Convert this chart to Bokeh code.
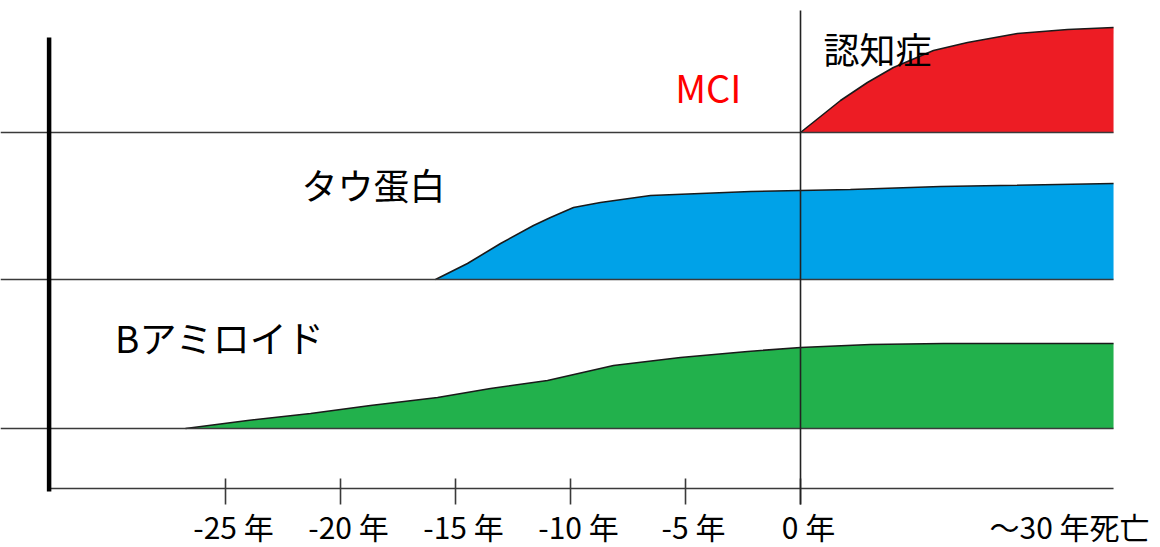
from bokeh.plotting import figure
from bokeh.models import Range1d
from bokeh.embed import file_html
from bokeh.resources import INLINE
from bokeh.core.properties import value

# ---- data (x: years relative to dementia onset, display scale; y: level) ----
tick_years = [-25, -20, -15, -10, -5, 0]
tick_labels = ["-25 年", "-20 年", "-15 年", "-10 年", "-5 年", "0 年"]
end_label = "～30 年死亡"
end_year = 13.61          # right end of the timeline (compressed "～30 年")
end_label_year = 11.35

amyloid_x = [-26.74, -24.04, -21.30, -18.70, -15.78, -13.48, -11.0, -8.13, -5.22, -2.30, 0.0, 1.0, 3.04, 6.22, 13.61]
amyloid_h = [0.0, 0.08, 0.15, 0.23, 0.31, 0.40, 0.48, 0.63, 0.71, 0.77, 0.81, 0.82, 0.84, 0.85, 0.85]

tau_x = [-15.87, -14.48, -13.04, -11.61, -10.87, -9.87, -8.70, -6.52, -4.35, -2.17, 0.0, 2.17, 6.09, 8.70, 13.61]
tau_h = [0.0, 0.16, 0.36, 0.54, 0.62, 0.72, 0.77, 0.84, 0.86, 0.88, 0.89, 0.90, 0.93, 0.94, 0.96]

dementia_x = [0.0, 1.74, 2.91, 4.04, 5.78, 7.26, 9.43, 11.61, 13.61]
dementia_h = [0.0, 0.32, 0.50, 0.65, 0.82, 0.90, 0.99, 1.03, 1.05]

band_base = [0.60, 2.09, 3.56]
band_colors = ["#22B14C", "#00A2E8", "#ED1C24"]

FONT = "Noto Sans CJK JP"

# ---- figure: frame covers the whole canvas ----
x_start, x_end = -34.783, 15.652
y_start, y_end = -0.59, 4.88
p = figure(width=1160, height=547,
           x_range=Range1d(x_start, x_end), y_range=Range1d(y_start, y_end),
           output_backend="svg", toolbar_location=None,
           x_axis_location=None, y_axis_location=None,
           min_border=0)
p.outline_line_color = None
p.xgrid.visible = False
p.ygrid.visible = False
p.background_fill_color = "white"
p.border_fill_color = "white"

axis_left = -32.67  # position of thick vertical bar
line_col = "#3a3a3a"

# areas
series = [(amyloid_x, amyloid_h), (tau_x, tau_h), (dementia_x, dementia_h)]
for (xs, hs), base, col in zip(series, band_base, band_colors):
    top = [base + h for h in hs]
    p.varea(x=xs, y1=[base] * len(xs), y2=top, fill_color=col)
    p.line(x=xs, y=top, line_color="#1a1a1a", line_width=1.6)

# baselines
for base in band_base:
    p.segment(x0=[x_start], y0=[base], x1=[end_year], y1=[base], line_color=line_col, line_width=1.6)

# time axis line and ticks
p.segment(x0=[axis_left], y0=[0], x1=[end_year], y1=[0], line_color=line_col, line_width=1.6)
p.segment(x0=tick_years, y0=[0.10] * len(tick_years), x1=tick_years, y1=[-0.16] * len(tick_years),
          line_color=line_col, line_width=1.6)

# thick left bar
p.segment(x0=[axis_left], y0=[-0.03], x1=[axis_left], y1=[4.51], line_color="black", line_width=4.5)
# vertical line at year 0
p.segment(x0=[0], y0=[-0.16], x1=[0], y1=[4.78], line_color="#222222", line_width=1.6)

# tick labels
p.text(x=tick_years + [end_label_year], y=[-0.37] * (len(tick_years) + 1),
       text=tick_labels + [end_label], text_font=value(FONT), text_font_size="30px",
       text_color="black", text_align="center", text_baseline="middle", x_offset=8)

# band texts
p.text(x=[1.0], y=[4.41], text=["認知症"], text_font=value(FONT), text_font_size="36px",
       text_color="black", text_align="left", text_baseline="middle")
p.text(x=[-5.45], y=[4.02], text=["MCI"], text_font=value(FONT), text_font_size="38px",
       text_color="#FF0000", text_align="left", text_baseline="middle")
p.text(x=[-21.7], y=[3.05], text=["タウ蛋白"], text_font=value(FONT), text_font_size="36px",
       text_color="black", text_align="left", text_baseline="middle")
p.text(x=[-29.8], y=[1.52], text=["Bアミロイド"], text_font=value(FONT), text_font_size="37px",
       text_color="black", text_align="left", text_baseline="middle")

open("out.html", "w").write(file_html(p, INLINE))
